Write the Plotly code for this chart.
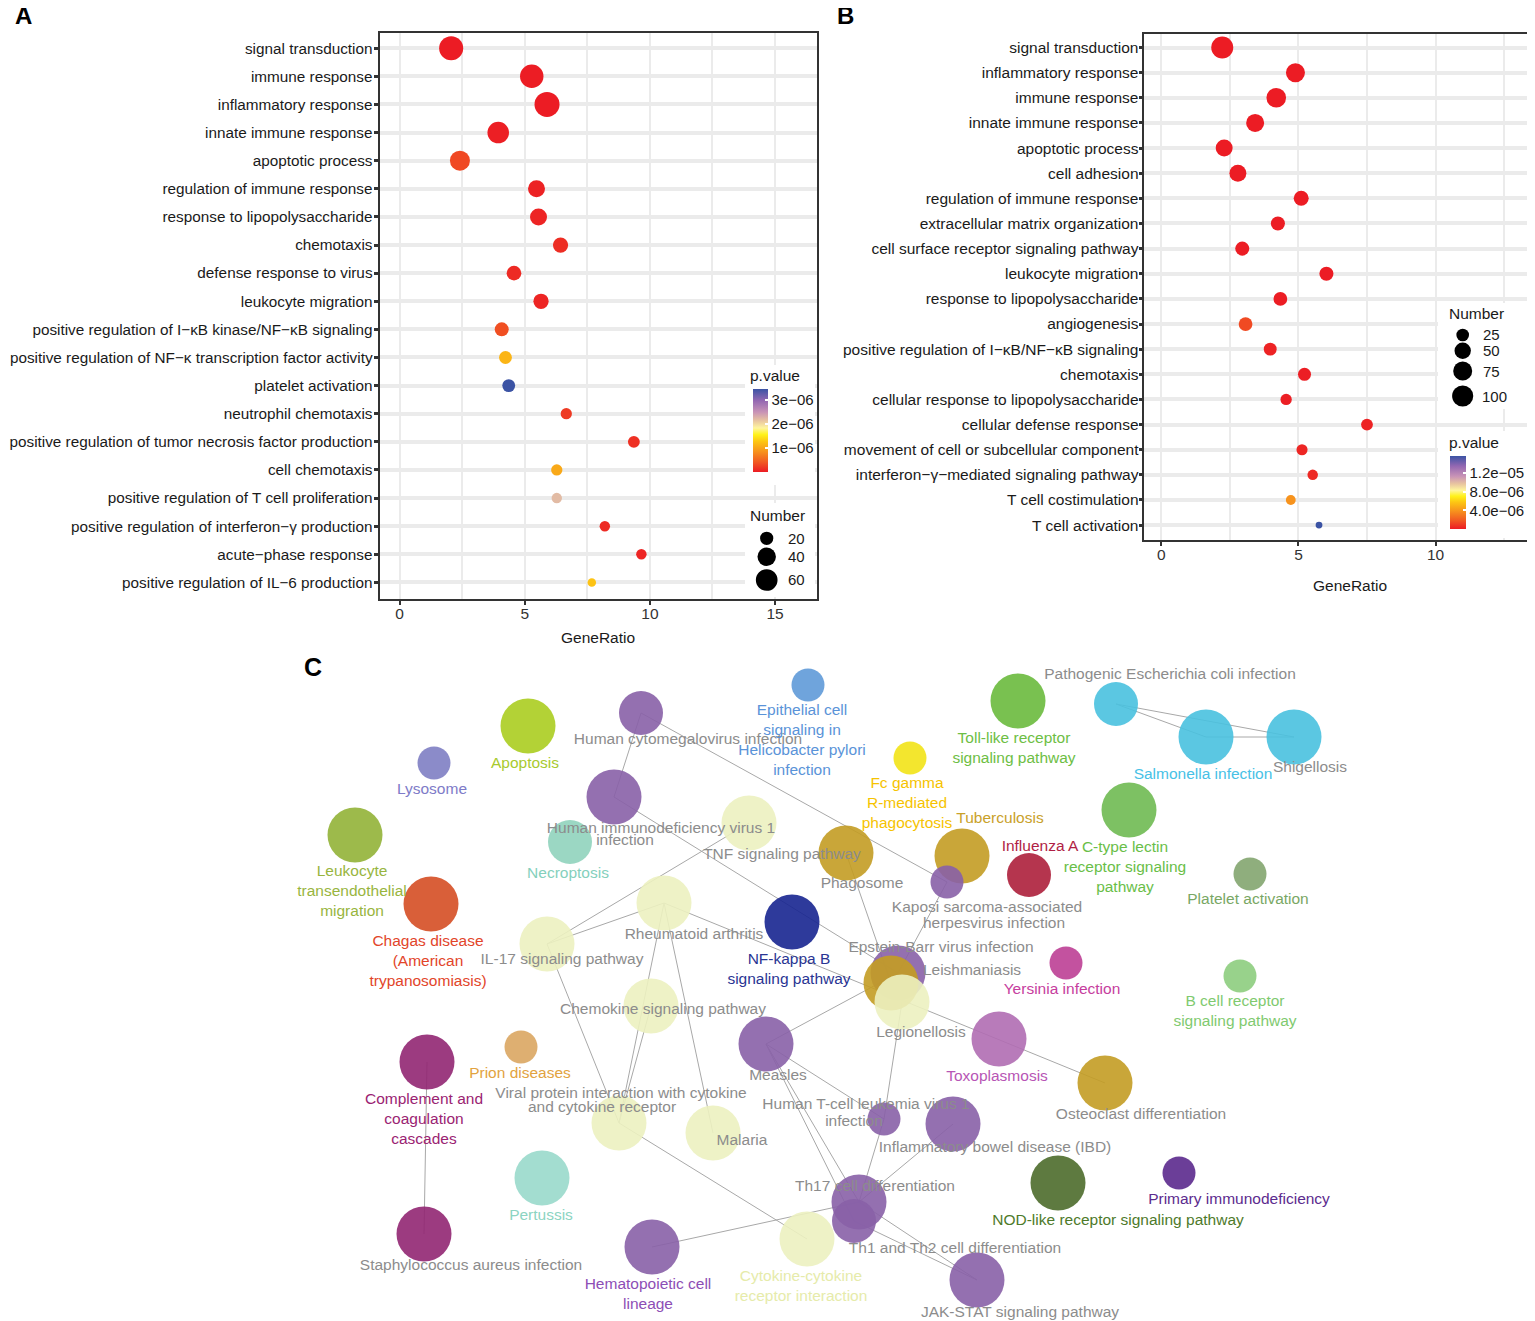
import numpy as np
import plotly.graph_objects as go

# the page puts the figure 8 px in from the top-left corner
OFF = 8
W, H = 1535 - OFF, 1321 - OFF
FONT = "Liberation Sans, Arial, Helvetica, sans-serif"
INK = "#1a1a1a"
GRID = "#ebebeb"
GRAY = "#8c8c8c"

# ---------------- panel A : GO terms (data set 1) ----------------
a_terms = [
    "signal transduction",
    "immune response",
    "inflammatory response",
    "innate immune response",
    "apoptotic process",
    "regulation of immune response",
    "response to lipopolysaccharide",
    "chemotaxis",
    "defense response to virus",
    "leukocyte migration",
    "positive regulation of I−κB kinase/NF−κB signaling",
    "positive regulation of NF−κ transcription factor activity",
    "platelet activation",
    "neutrophil chemotaxis",
    "positive regulation of tumor necrosis factor production",
    "cell chemotaxis",
    "positive regulation of T cell proliferation",
    "positive regulation of interferon−γ production",
    "acute−phase response",
    "positive regulation of IL−6 production",
]
a_ratio = [2.06, 5.28, 5.89, 3.94, 2.41, 5.47, 5.55, 6.43, 4.57, 5.65,
           4.08, 4.23, 4.36, 6.66, 9.36, 6.28, 6.28, 8.20, 9.66, 7.68]
a_number = [78, 73, 86, 59, 49, 33, 33, 26, 24, 26,
            22, 19, 19, 16, 17, 16, 15, 15, 15, 14]
a_pvalue = [1.2e-12, 3.5e-09, 8.0e-11, 2.1e-08, 2.9e-07, 4.0e-08, 5.5e-08, 1.1e-07, 9.0e-08, 6.0e-08,
            3.4e-07, 1.13e-06, 3.44e-06, 2.0e-07, 1.3e-07, 1.03e-06, 2.2e-06, 1.0e-07, 6.0e-08, 1.24e-06]
a_size_breaks = [20, 40, 60]
a_p_ticks = [1e-06, 2e-06, 3e-06]
a_p_ticktext = ["1e−06", "2e−06", "3e−06"]

# ---------------- panel B : GO terms (data set 2) ----------------
b_terms = [
    "signal transduction",
    "inflammatory response",
    "immune response",
    "innate immune response",
    "apoptotic process",
    "cell adhesion",
    "regulation of immune response",
    "extracellular matrix organization",
    "cell surface receptor signaling pathway",
    "leukocyte migration",
    "response to lipopolysaccharide",
    "angiogenesis",
    "positive regulation of I−κB/NF−κB signaling",
    "chemotaxis",
    "cellular response to lipopolysaccharide",
    "cellular defense response",
    "movement of cell or subcellular component",
    "interferon−γ−mediated signaling pathway",
    "T cell costimulation",
    "T cell activation",
]
b_ratio = [2.22, 4.89, 4.19, 3.42, 2.29, 2.79, 5.10, 4.25, 2.95, 6.02,
           4.34, 3.07, 3.97, 5.22, 4.55, 7.50, 5.13, 5.52, 4.72, 5.75]
b_number = [111, 75, 82, 65, 55, 55, 39, 33, 33, 33,
            31, 31, 26, 27, 19, 21, 18, 16, 14, 10]
b_pvalue = [1e-20, 2e-15, 5e-16, 1e-12, 3e-09, 5e-09, 1e-10, 2e-08, 4e-08, 1e-09,
            3e-08, 1.4e-06, 2e-07, 5e-08, 1e-07, 2e-07, 3e-07, 4e-07, 3.9e-06, 1.57e-05]
b_size_breaks = [25, 50, 75, 100]
b_p_ticks = [4e-06, 8e-06, 1.2e-05]
b_p_ticktext = ["4.0e−06", "8.0e−06", "1.2e−05"]

# ---------------- panel C : KEGG pathway network ----------------
node_names = [
    "Lysosome", "Apoptosis", "Human cytomegalovirus infection",
    "Epithelial cell signaling in Helicobacter pylori infection",
    "Fc gamma R-mediated phagocytosis", "Toll-like receptor signaling pathway",
    "Pathogenic Escherichia coli infection", "Salmonella infection", "Shigellosis",
    "Leukocyte transendothelial migration", "Human immunodeficiency virus 1 infection",
    "Necroptosis", "TNF signaling pathway", "Phagosome", "Tuberculosis",
    "Kaposi sarcoma-associated herpesvirus infection", "Influenza A",
    "C-type lectin receptor signaling pathway", "Platelet activation",
    "Chagas disease (American trypanosomiasis)", "Rheumatoid arthritis",
    "IL-17 signaling pathway", "NF-kappa B signaling pathway",
    "Epstein-Barr virus infection", "Leishmaniasis", "Legionellosis",
    "Yersinia infection", "B cell receptor signaling pathway",
    "Chemokine signaling pathway", "Measles", "Toxoplasmosis",
    "Osteoclast differentiation", "Complement and coagulation cascades",
    "Prion diseases", "Viral protein interaction with cytokine and cytokine receptor",
    "Malaria", "Human T-cell leukemia virus 1 infection",
    "Inflammatory bowel disease (IBD)", "Th17 cell differentiation",
    "Th1 and Th2 cell differentiation", "Pertussis", "Staphylococcus aureus infection",
    "Hematopoietic cell lineage", "Cytokine-cytokine receptor interaction",
    "JAK-STAT signaling pathway", "NOD-like receptor signaling pathway",
    "Primary immunodeficiency",
]
# network layout coordinates (screen units of the original layout)
node_x = [434, 528, 641, 808, 910, 1018, 1116, 1206, 1294, 355, 614, 570, 749, 846, 962,
          947, 1029, 1129, 1250, 431, 664, 547, 792, 898, 891, 902, 1066, 1240, 651, 766,
          999, 1105, 427, 521, 619, 713, 884, 953, 859, 854, 542, 424, 652, 807, 977,
          1058, 1179]
node_y = [763, 726, 713, 685, 758, 701, 704, 737, 737, 835, 797, 842, 823, 853, 856,
          882, 875, 810, 874, 904, 903, 944, 922, 973, 983, 1002, 963, 976, 1006, 1044,
          1039, 1083, 1062, 1047, 1123, 1133, 1119, 1124, 1202, 1221, 1178, 1234, 1247, 1239, 1280,
          1183, 1173]
# significance class: 1 small, 2 medium, 3 large
node_rank = [1, 3, 2, 1, 1, 3, 2, 3, 3, 3, 3, 2, 3, 3, 3,
             1, 2, 3, 1, 3, 3, 3, 3, 3, 3, 3, 1, 1, 3, 3,
             3, 3, 3, 1, 3, 3, 1, 3, 3, 2, 3, 3, 3, 3, 3,
             3, 1]
node_group = ["lysosome", "apoptosis", "virus", "helico", "fcgamma", "toll",
              "enteric", "enteric", "enteric", "leukocyte", "virus",
              "necroptosis", "cytokine", "mycobact", "mycobact",
              "virus", "influenza", "ctype", "platelet", "chagas", "cytokine",
              "cytokine", "nfkb", "virus", "mycobact", "cytokine",
              "yersinia", "bcell", "cytokine", "virus", "toxo",
              "mycobact", "complement", "prion", "cytokine",
              "cytokine", "virus", "virus", "virus",
              "virus", "pertussis", "complement",
              "virus", "cytokine", "virus", "nod", "primary"]

edges = [
    ("Human cytomegalovirus infection", "Human immunodeficiency virus 1 infection"),
    ("Human cytomegalovirus infection", "Kaposi sarcoma-associated herpesvirus infection"),
    ("Human immunodeficiency virus 1 infection", "Epstein-Barr virus infection"),
    ("TNF signaling pathway", "IL-17 signaling pathway"),
    ("Rheumatoid arthritis", "IL-17 signaling pathway"),
    ("Rheumatoid arthritis", "Osteoclast differentiation"),
    ("Rheumatoid arthritis", "Viral protein interaction with cytokine and cytokine receptor"),
    ("Rheumatoid arthritis", "Malaria"),
    ("IL-17 signaling pathway", "Viral protein interaction with cytokine and cytokine receptor"),
    ("Chemokine signaling pathway", "Viral protein interaction with cytokine and cytokine receptor"),
    ("Viral protein interaction with cytokine and cytokine receptor", "Cytokine-cytokine receptor interaction"),
    ("Hematopoietic cell lineage", "Th17 cell differentiation"),
    ("Measles", "Th17 cell differentiation"),
    ("Measles", "Th1 and Th2 cell differentiation"),
    ("Measles", "Human T-cell leukemia virus 1 infection"),
    ("Measles", "Epstein-Barr virus infection"),
    ("Legionellosis", "Human T-cell leukemia virus 1 infection"),
    ("Human T-cell leukemia virus 1 infection", "Th17 cell differentiation"),
    ("Inflammatory bowel disease (IBD)", "Th17 cell differentiation"),
    ("Th17 cell differentiation", "JAK-STAT signaling pathway"),
    ("Th1 and Th2 cell differentiation", "JAK-STAT signaling pathway"),
    ("Phagosome", "Leishmaniasis"),
    ("Kaposi sarcoma-associated herpesvirus infection", "Epstein-Barr virus infection"),
    ("Pathogenic Escherichia coli infection", "Salmonella infection"),
    ("Pathogenic Escherichia coli infection", "Shigellosis"),
    ("Salmonella infection", "Shigellosis"),
    ("Complement and coagulation cascades", "Staphylococcus aureus infection"),
]

# node labels as they were placed in the network view
label_text = [
    "Lysosome", "Apoptosis", "Human cytomegalovirus infection",
    "Epithelial cell<br>signaling in<br>Helicobacter pylori<br>infection",
    "Fc gamma<br>R-mediated<br>phagocytosis", "Toll-like receptor<br>signaling pathway",
    "Pathogenic Escherichia coli infection", "Salmonella infection", "Shigellosis",
    "Leukocyte<br>transendothelial<br>migration", "Human immunodeficiency virus 1", "infection",
    "Necroptosis", "TNF signaling pathway", "Phagosome", "Tuberculosis",
    "Kaposi sarcoma-associated", "herpesvirus infection", "Influenza A",
    "C-type lectin<br>receptor signaling<br>pathway", "Platelet activation",
    "Chagas disease<br>(American<br>trypanosomiasis)", "Rheumatoid arthritis",
    "IL-17 signaling pathway", "NF-kappa B<br>signaling pathway",
    "Epstein-Barr virus infection", "Leishmaniasis", "Legionellosis",
    "Yersinia infection", "B cell receptor<br>signaling pathway",
    "Chemokine signaling pathway", "Measles", "Toxoplasmosis",
    "Osteoclast differentiation", "Complement and<br>coagulation<br>cascades",
    "Prion diseases", "Viral protein interaction with cytokine", "and cytokine receptor",
    "Malaria", "Human T-cell leukemia virus 1", "infection",
    "Inflammatory bowel disease (IBD)", "Th17 cell differentiation",
    "Th1 and Th2 cell differentiation", "Pertussis", "Staphylococcus aureus infection",
    "Hematopoietic cell<br>lineage", "Cytokine-cytokine<br>receptor interaction",
    "JAK-STAT signaling pathway", "NOD-like receptor signaling pathway",
    "Primary immunodeficiency",
]
label_x = [432, 525, 688, 802, 907, 1014, 1170, 1203, 1310, 352, 661, 625, 568, 782, 862,
           1000, 987, 994, 1040, 1125, 1248, 428, 694, 562, 789, 941, 972, 921, 1062, 1235,
           663, 778, 997, 1141, 424, 520, 621, 602, 742, 866, 854, 995, 875, 955, 541, 471,
           648, 801, 1020, 1118, 1239]
label_y = [790, 764, 740, 741, 804, 749, 675, 775, 768, 892, 829, 841, 874, 855, 884,
           819, 908, 924, 847, 868, 900, 962, 935, 960, 970, 948, 971, 1033, 990, 1012,
           1010, 1076, 1077, 1115, 1120, 1074, 1094, 1108, 1141, 1105, 1122, 1148, 1187, 1249, 1216, 1266,
           1295, 1287, 1313, 1221, 1200]
label_group = ["lysosome", "apoptosis", None, "helico", "fcgamma", "toll", None, "enteric", None,
               "leukocyte", None, None, "necroptosis", None, None, "mycobact", None, None,
               "influenza", "ctype", "platelet", "chagas", None, None, "nfkb", None, None, None,
               "yersinia", "bcell", None, None, "toxo", None, "complement", "prion", None, None,
               None, None, None, None, None, None, "pertussis", None, "virus", "cytokine", None,
               "nod", "primary"]

# ---------------- styles ----------------
P_SCALE = [[0.0, "#ec1c24"], [0.12, "#f15a22"], [0.25, "#f7941d"], [0.37, "#fdc713"],
           [0.45, "#fff21a"], [0.53, "#fff59e"], [0.62, "#e8c4a0"], [0.72, "#c994b6"],
           [0.86, "#9468b2"], [1.0, "#3b53a4"]]

node_fill = {"lysosome": "#8b8bc9", "apoptosis": "#b3d236", "virus": "#9470b0",
             "helico": "#6fa4dc", "fcgamma": "#f3e62e", "toll": "#79c150",
             "enteric": "#5bc7e2", "leukocyte": "#9dbb4b", "necroptosis": "#9bd7c4",
             "cytokine": "#eef2c6", "mycobact": "#c9a63a", "influenza": "#b5354f",
             "ctype": "#7dc163", "platelet": "#8fae7d", "chagas": "#d9603a",
             "nfkb": "#2e3b9b", "yersinia": "#c352a0", "bcell": "#98d28b",
             "toxo": "#b87cba", "complement": "#9c3c80", "prion": "#deaf72",
             "pertussis": "#a3ddd0", "nod": "#5f7b40", "primary": "#6b3e98"}
label_fill = {"lysosome": "#7e7bc8", "apoptosis": "#a8ca2e", "helico": "#5a93d8",
              "fcgamma": "#f6c300", "toll": "#6dbe44", "enteric": "#47c1e6",
              "leukocyte": "#98b53e", "necroptosis": "#84d0bc", "mycobact": "#c9a12a",
              "influenza": "#b01e45", "ctype": "#69be48", "platelet": "#79a764",
              "chagas": "#e2452a", "nfkb": "#2a3593", "yersinia": "#c63d9e",
              "bcell": "#7fca6f", "toxo": "#b755b5", "complement": "#9a2372",
              "prion": "#e2a33f", "pertussis": "#8cd4c2", "virus": "#8d4eb5",
              "cytokine": "#e6ebaa", "nod": "#4e7a2a", "primary": "#5c2b8e"}
rank_diameter = {1: 33, 2: 44, 3: 55}


def px(x):
    return (x - OFF) / W


def py(y):
    return 1 - (y - OFF) / H


def dot_diameter(n, values, dmin, dmax):
    lo, hi = min(values), max(values)
    return dmin + (dmax - dmin) * np.sqrt((np.asarray(n, float) - lo) / (hi - lo))


def on_white(hex_color, alpha=0.9):
    rgb = [int(hex_color[i:i + 2], 16) for i in (1, 3, 5)]
    base = [int(max(0, min(255, round((c - (1 - alpha) * 255) / alpha)))) for c in rgb]
    return f"rgba({base[0]},{base[1]},{base[2]},{alpha})"


def note(text, x, y, size=15.5, color=INK, xanchor="center"):
    return dict(text=text, x=px(x), y=py(y), xref="paper", yref="paper",
                xanchor=xanchor, yanchor="middle", showarrow=False,
                font=dict(family=FONT, size=size, color=color))


def key_dot(cx, cy, d):
    return dict(type="circle", xref="paper", yref="paper", xsizemode="pixel", ysizemode="pixel",
                xanchor=px(cx), yanchor=py(cy), x0=-d / 2, x1=d / 2, y0=-d / 2, y1=d / 2,
                fillcolor="black", line_width=0, layer="above")


def white_box(x0, y0, x1, y1):
    return dict(type="rect", xref="paper", yref="paper", x0=px(x0), x1=px(x1),
                y0=py(y1), y1=py(y0), fillcolor="white", line_width=0, layer="above")


fig = go.Figure()

fig.add_trace(go.Scatter(
    x=a_ratio, y=a_terms, mode="markers", xaxis="x", yaxis="y", showlegend=False,
    marker=dict(size=dot_diameter(a_number, a_number, 8.5, 25), color=a_pvalue,
                coloraxis="coloraxis", line_width=0, opacity=1),
))
fig.add_trace(go.Scatter(
    x=b_ratio, y=b_terms, mode="markers", xaxis="x2", yaxis="y2", showlegend=False,
    marker=dict(size=dot_diameter(b_number, b_number, 6.8, 22), color=b_pvalue,
                coloraxis="coloraxis2", line_width=0, opacity=1),
))

# network edges
idx = {name: i for i, name in enumerate(node_names)}
edge_x, edge_y = [], []
for s, t in edges:
    edge_x += [node_x[idx[s]], node_x[idx[t]], None]
    edge_y += [node_y[idx[s]], node_y[idx[t]], None]
fig.add_trace(go.Scatter(x=edge_x, y=edge_y, mode="lines", xaxis="x3", yaxis="y3",
                         line=dict(color="#a8a8a8", width=1), showlegend=False, hoverinfo="skip"))
fig.add_trace(go.Scatter(
    x=node_x, y=node_y, mode="markers", xaxis="x3", yaxis="y3", showlegend=False,
    text=node_names, hoverinfo="text", cliponaxis=False,
    marker=dict(size=[rank_diameter[r] for r in node_rank], opacity=1,
                color=[on_white(node_fill[g]) for g in node_group], line_width=0),
))
fig.add_trace(go.Scatter(
    x=label_x, y=label_y, mode="text", xaxis="x3", yaxis="y3", showlegend=False,
    text=label_text, textposition="middle center", cliponaxis=False, hoverinfo="skip",
    textfont=dict(family=FONT, size=15.5,
                  color=[label_fill[g] if g else GRAY for g in label_group]),
))

axis_common = dict(showline=True, linecolor="#333333", linewidth=2, zeroline=False,
                   ticks="outside", tickcolor="#333333", showgrid=True, gridcolor=GRID)

fig.update_layout(
    width=W, height=H, margin=dict(l=0, r=0, t=0, b=0),
    paper_bgcolor="white", plot_bgcolor="white",
    font=dict(family=FONT, size=15.5, color=INK),
    xaxis=dict(domain=[px(379.6), px(816.8)], range=[-0.8, 16.67], anchor="y",
               tickvals=[0, 5, 10, 15], mirror=True, ticklen=4, tickwidth=2, gridwidth=2.2,
               ticklabelstandoff=-5,
               minor=dict(dtick=2.5, tick0=0, showgrid=True, gridcolor=GRID, gridwidth=2.2),
               tickfont=dict(size=15.5, color="#333333"), **axis_common),
    yaxis=dict(domain=[py(599.3), py(33.3)], anchor="x", type="category",
               categoryorder="array", categoryarray=a_terms, range=[19.6, -0.53],
               mirror=True, ticklen=4, tickwidth=2.5, gridwidth=3.5, ticklabelstandoff=-2,
               tickfont=dict(size=15.3, color=INK), **axis_common),
    xaxis2=dict(domain=[px(1143.6), 1.0], range=[-0.65, 13.63], anchor="y2",
                tickvals=[0, 5, 10], mirror=True, ticklen=4, tickwidth=2, gridwidth=2.2,
                ticklabelstandoff=-5,
                minor=dict(dtick=2.5, tick0=0, showgrid=True, gridcolor=GRID, gridwidth=2.2),
                tickfont=dict(size=15.5, color="#333333"), **axis_common),
    yaxis2=dict(domain=[py(540.2), py(33.7)], anchor="x2", type="category",
                categoryorder="array", categoryarray=b_terms, range=[19.6, -0.55],
                mirror=False, ticklen=3, tickwidth=2.5, gridwidth=3.5, ticklabelstandoff=-3,
                tickfont=dict(size=15.5, color=INK), **axis_common),
    xaxis3=dict(domain=[px(290), 1.0], range=[290, 1535], anchor="y3", visible=False),
    yaxis3=dict(domain=[0.0, py(650)], range=[1321, 650], anchor="x3", visible=False),
    coloraxis=dict(
        colorscale=P_SCALE, cmin=0, cmax=3.44e-06,
        colorbar=dict(x=px(752.7), xanchor="left", y=py(389.3), yanchor="top",
                      len=83, lenmode="pixels", thickness=15, thicknessmode="pixels",
                      xpad=0, ypad=0, outlinewidth=0, tickvals=a_p_ticks, ticktext=a_p_ticktext,
                      ticks="inside", ticklen=3, tickcolor="white", tickwidth=1.5,
                      tickfont=dict(family=FONT, size=15, color=INK)),
    ),
    coloraxis2=dict(
        colorscale=P_SCALE, cmin=0, cmax=1.57e-05,
        colorbar=dict(x=px(1450), xanchor="left", y=py(456), yanchor="top",
                      len=73, lenmode="pixels", thickness=16, thicknessmode="pixels",
                      xpad=0, ypad=0, outlinewidth=0, tickvals=b_p_ticks, ticktext=b_p_ticktext,
                      ticks="inside", ticklen=3, tickcolor="white", tickwidth=1.5,
                      tickfont=dict(family=FONT, size=15, color=INK)),
    ),
)

# legend panels drawn inside the plotting areas (ggplot style)
shapes = [white_box(745, 365, 815, 485), white_box(745, 503, 815, 597),
          white_box(1438, 303, 1535, 409), white_box(1438, 431, 1535, 538)]
for n, cy in zip(a_size_breaks, [538.3, 556.7, 580.0]):
    shapes.append(key_dot(766.7, cy, float(dot_diameter(n, a_number, 8.5, 25))))
for n, cy in zip(b_size_breaks, [335.0, 350.7, 371.0, 396.0]):
    shapes.append(key_dot(1462.7, cy, float(dot_diameter(n, b_number, 6.8, 22))))

annotations = [
    note("<b>A</b>", 23, 16, size=24, color="black"),
    note("<b>B</b>", 845, 16, size=24, color="black"),
    note("<b>C</b>", 313, 667, size=25, color="black"),
    note("GeneRatio", 598, 637),
    note("GeneRatio", 1350, 585),
    note("p.value", 748, 375.5, xanchor="left"),
    note("Number", 748, 515.5, xanchor="left"),
    note("Number", 1446.7, 314, xanchor="left"),
    note("p.value", 1446.7, 443, xanchor="left"),
]
for n, cy in zip(a_size_breaks, [538.3, 556.7, 580.0]):
    annotations.append(note(str(n), 786, cy, size=15, xanchor="left"))
for n, cy in zip(b_size_breaks, [335.0, 350.7, 371.0, 396.0]):
    annotations.append(note(str(n), 1480.5 if n < 100 else 1479.5, cy, size=15, xanchor="left"))

fig.update_layout(shapes=shapes, annotations=annotations)

fig.write_html("out.html")
